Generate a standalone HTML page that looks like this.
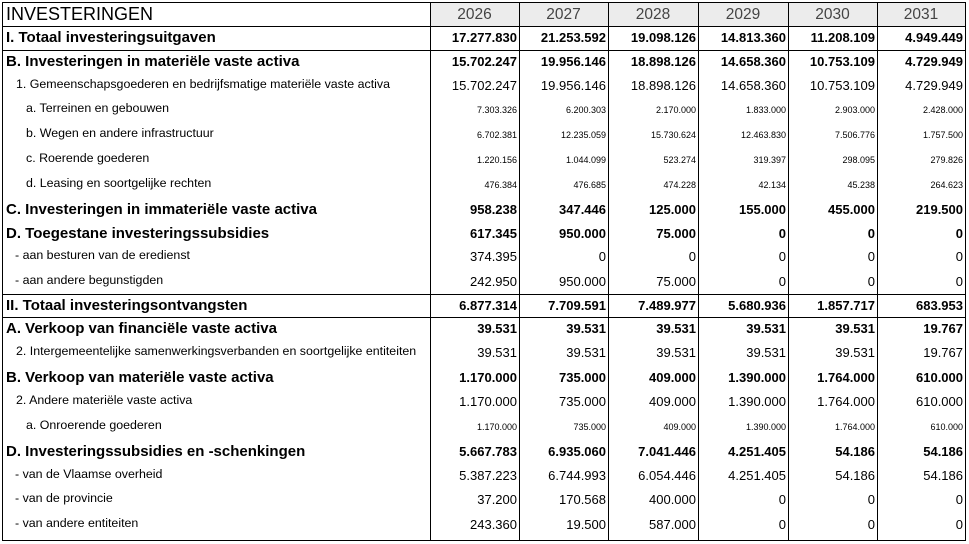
<!DOCTYPE html>
<html><head><meta charset="utf-8"><style>
body{margin:0;background:#fff;width:969px;height:544px;position:relative;overflow:hidden;font-family:"Liberation Sans",Arial,sans-serif;color:#000}
.r{position:absolute;left:3px;width:962px;display:flex}
.r div{box-sizing:border-box;white-space:nowrap}
.l{width:427px;padding-left:3px}
.n{text-align:right;padding-right:2px}
.c1{width:89px}.c2{width:89px}.c3{width:90px}.c4{width:90px}.c5{width:89px}.c6{width:88px}
.h .l{font-weight:bold;font-size:15px}
.h .n{font-weight:bold;font-size:13px}
.s1 .l{font-size:12.4px;padding-left:13px;position:relative;top:-2px}
.s1 .n{font-size:13px}
.s2 .l{font-size:12.4px;padding-left:23px;position:relative;top:-2px}
.s2 .n{font-size:9px}
.dd .l{font-size:12.4px;padding-left:12px;position:relative;top:-2px}
.dd .n{font-size:13px}
.y{text-align:center;font-size:15.5px;color:#444}
.vl{position:absolute;top:3px;height:538px;width:1px;background:#000}
.hl{position:absolute;left:3px;width:962px;height:1px;background:#000}
#box{position:absolute;left:2px;top:2px;width:962px;height:537px;border:1px solid #000}
</style></head><body>
<div style="position:absolute;left:430px;top:3px;width:535px;height:23px;background:#ececec"></div>
<div id="box"></div>
<div class="vl" style="left:430px"></div>
<div class="vl" style="left:519px"></div>
<div class="vl" style="left:608px"></div>
<div class="vl" style="left:698px"></div>
<div class="vl" style="left:788px"></div>
<div class="vl" style="left:877px"></div>
<div class="hl" style="top:26px"></div>
<div class="hl" style="top:50px"></div>
<div class="hl" style="top:294px"></div>
<div class="hl" style="top:317px"></div>

<div class="r" style="top:3px;height:23px;line-height:23px"><div class="l" style="font-size:18px;padding-left:3px">INVESTERINGEN</div><div class="c1 y">2026</div><div class="c2 y">2027</div><div class="c3 y">2028</div><div class="c4 y">2029</div><div class="c5 y">2030</div><div class="c6 y">2031</div></div>

<div class="r h" style="top:26px;height:24px;line-height:24px"><div class="l">I. Totaal investeringsuitgaven</div><div class="n c1">17.277.830</div><div class="n c2">21.253.592</div><div class="n c3">19.098.126</div><div class="n c4">14.813.360</div><div class="n c5">11.208.109</div><div class="n c6">4.949.449</div></div>
<div class="r h" style="top:50px;height:24px;line-height:24px"><div class="l">B. Investeringen in materiële vaste activa</div><div class="n c1">15.702.247</div><div class="n c2">19.956.146</div><div class="n c3">18.898.126</div><div class="n c4">14.658.360</div><div class="n c5">10.753.109</div><div class="n c6">4.729.949</div></div>
<div class="r s1" style="top:74px;height:24px;line-height:24px"><div class="l">1. Gemeenschapsgoederen en bedrijfsmatige materiële vaste activa</div><div class="n c1">15.702.247</div><div class="n c2">19.956.146</div><div class="n c3">18.898.126</div><div class="n c4">14.658.360</div><div class="n c5">10.753.109</div><div class="n c6">4.729.949</div></div>
<div class="r s2" style="top:98px;height:24px;line-height:24px"><div class="l">a. Terreinen en gebouwen</div><div class="n c1">7.303.326</div><div class="n c2">6.200.303</div><div class="n c3">2.170.000</div><div class="n c4">1.833.000</div><div class="n c5">2.903.000</div><div class="n c6">2.428.000</div></div>
<div class="r s2" style="top:123px;height:24px;line-height:24px"><div class="l">b. Wegen en andere infrastructuur</div><div class="n c1">6.702.381</div><div class="n c2">12.235.059</div><div class="n c3">15.730.624</div><div class="n c4">12.463.830</div><div class="n c5">7.506.776</div><div class="n c6">1.757.500</div></div>
<div class="r s2" style="top:148px;height:24px;line-height:24px"><div class="l">c. Roerende goederen</div><div class="n c1">1.220.156</div><div class="n c2">1.044.099</div><div class="n c3">523.274</div><div class="n c4">319.397</div><div class="n c5">298.095</div><div class="n c6">279.826</div></div>
<div class="r s2" style="top:173px;height:24px;line-height:24px"><div class="l">d. Leasing en soortgelijke rechten</div><div class="n c1">476.384</div><div class="n c2">476.685</div><div class="n c3">474.228</div><div class="n c4">42.134</div><div class="n c5">45.238</div><div class="n c6">264.623</div></div>
<div class="r h" style="top:198px;height:24px;line-height:24px"><div class="l">C. Investeringen in immateriële vaste activa</div><div class="n c1">958.238</div><div class="n c2">347.446</div><div class="n c3">125.000</div><div class="n c4">155.000</div><div class="n c5">455.000</div><div class="n c6">219.500</div></div>
<div class="r h" style="top:222px;height:24px;line-height:24px"><div class="l">D. Toegestane investeringssubsidies</div><div class="n c1">617.345</div><div class="n c2">950.000</div><div class="n c3">75.000</div><div class="n c4">0</div><div class="n c5">0</div><div class="n c6">0</div></div>
<div class="r dd" style="top:245px;height:24px;line-height:24px"><div class="l">- aan besturen van de eredienst</div><div class="n c1">374.395</div><div class="n c2">0</div><div class="n c3">0</div><div class="n c4">0</div><div class="n c5">0</div><div class="n c6">0</div></div>
<div class="r dd" style="top:270px;height:24px;line-height:24px"><div class="l">- aan andere begunstigden</div><div class="n c1">242.950</div><div class="n c2">950.000</div><div class="n c3">75.000</div><div class="n c4">0</div><div class="n c5">0</div><div class="n c6">0</div></div>
<div class="r h" style="top:294px;height:23px;line-height:23px"><div class="l">II. Totaal investeringsontvangsten</div><div class="n c1">6.877.314</div><div class="n c2">7.709.591</div><div class="n c3">7.489.977</div><div class="n c4">5.680.936</div><div class="n c5">1.857.717</div><div class="n c6">683.953</div></div>
<div class="r h" style="top:317px;height:24px;line-height:24px"><div class="l">A. Verkoop van financiële vaste activa</div><div class="n c1">39.531</div><div class="n c2">39.531</div><div class="n c3">39.531</div><div class="n c4">39.531</div><div class="n c5">39.531</div><div class="n c6">19.767</div></div>
<div class="r s1" style="top:341px;height:24px;line-height:24px"><div class="l">2. Intergemeentelijke samenwerkingsverbanden en soortgelijke entiteiten</div><div class="n c1">39.531</div><div class="n c2">39.531</div><div class="n c3">39.531</div><div class="n c4">39.531</div><div class="n c5">39.531</div><div class="n c6">19.767</div></div>
<div class="r h" style="top:366px;height:24px;line-height:24px"><div class="l">B. Verkoop van materiële vaste activa</div><div class="n c1">1.170.000</div><div class="n c2">735.000</div><div class="n c3">409.000</div><div class="n c4">1.390.000</div><div class="n c5">1.764.000</div><div class="n c6">610.000</div></div>
<div class="r s1" style="top:390px;height:24px;line-height:24px"><div class="l">2. Andere materiële vaste activa</div><div class="n c1">1.170.000</div><div class="n c2">735.000</div><div class="n c3">409.000</div><div class="n c4">1.390.000</div><div class="n c5">1.764.000</div><div class="n c6">610.000</div></div>
<div class="r s2" style="top:415px;height:24px;line-height:24px"><div class="l">a. Onroerende goederen</div><div class="n c1">1.170.000</div><div class="n c2">735.000</div><div class="n c3">409.000</div><div class="n c4">1.390.000</div><div class="n c5">1.764.000</div><div class="n c6">610.000</div></div>
<div class="r h" style="top:440px;height:24px;line-height:24px"><div class="l">D. Investeringssubsidies en -schenkingen</div><div class="n c1">5.667.783</div><div class="n c2">6.935.060</div><div class="n c3">7.041.446</div><div class="n c4">4.251.405</div><div class="n c5">54.186</div><div class="n c6">54.186</div></div>
<div class="r dd" style="top:464px;height:24px;line-height:24px"><div class="l">- van de Vlaamse overheid</div><div class="n c1">5.387.223</div><div class="n c2">6.744.993</div><div class="n c3">6.054.446</div><div class="n c4">4.251.405</div><div class="n c5">54.186</div><div class="n c6">54.186</div></div>
<div class="r dd" style="top:488px;height:24px;line-height:24px"><div class="l">- van de provincie</div><div class="n c1">37.200</div><div class="n c2">170.568</div><div class="n c3">400.000</div><div class="n c4">0</div><div class="n c5">0</div><div class="n c6">0</div></div>
<div class="r dd" style="top:513px;height:24px;line-height:24px"><div class="l">- van andere entiteiten</div><div class="n c1">243.360</div><div class="n c2">19.500</div><div class="n c3">587.000</div><div class="n c4">0</div><div class="n c5">0</div><div class="n c6">0</div></div>
</body></html>
